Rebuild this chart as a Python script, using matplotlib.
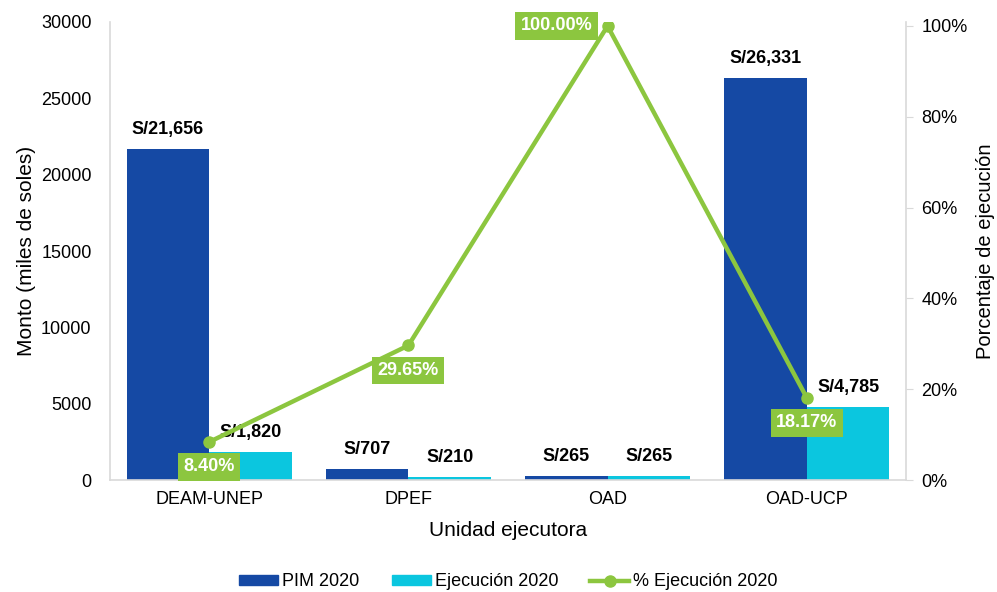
import matplotlib
matplotlib.use("Agg")
import matplotlib.pyplot as plt
import numpy as np
from matplotlib.patches import Patch
from matplotlib.lines import Line2D

plt.rcParams['font.family'] = ['Liberation Sans', 'DejaVu Sans']

categories = ["DEAM-UNEP", "DPEF", "OAD", "OAD-UCP"]
pim_2020 = [21656, 707, 265, 26331]
ejec_2020 = [1820, 210, 265, 4785]
pct_ejec = [8.40, 29.65, 100.00, 18.17]
pim_labels = ["S/21,656", "S/707", "S/265", "S/26,331"]
ejec_labels = ["S/1,820", "S/210", "S/265", "S/4,785"]
pct_labels = ["8.40%", "29.65%", "100.00%", "18.17%"]
y_ticks = [0, 5000, 10000, 15000, 20000, 25000, 30000]
pct_ticks = [0, 20, 40, 60, 80, 100]

BLUE = "#1549A4"
CYAN = "#0BC6DF"
GREEN = "#8CC63F"
GRID = "#D9D9D9"
FS = 13
FS_LAB = 15

fig = plt.figure(figsize=(9.97, 5.92), dpi=100)
ax = fig.add_axes([0.110, 0.189, 0.799, 0.774])
ax2 = ax.twinx()

x = np.arange(len(categories))
w = 0.415
ax.bar(x - w / 2, pim_2020, w, color=BLUE, zorder=2)
ax.bar(x + w / 2, ejec_2020, w, color=CYAN, zorder=2)

ax.set_xlim(-0.5, 3.5)
ax.set_ylim(0, 30000)
ax.set_yticks(y_ticks)
ax.set_yticklabels([str(v) for v in y_ticks], fontsize=FS)
ax.set_xticks(x)
ax.set_xticklabels(categories, fontsize=FS)
ax.tick_params(axis='x', length=0, pad=8)
ax.tick_params(axis='y', length=0, pad=13)
for s in ['top', 'right']:
    ax.spines[s].set_visible(False)
ax.spines['left'].set_color(GRID)
ax.spines['bottom'].set_color(GRID)
ax.spines['left'].set_linewidth(1.2)
ax.spines['bottom'].set_linewidth(1.2)
ax.set_ylabel("Monto (miles de soles)", fontsize=FS_LAB, labelpad=4)
ax.set_xlabel("Unidad ejecutora", fontsize=FS_LAB, labelpad=9)

# bar labels
for i in range(len(categories)):
    ax.annotate(pim_labels[i], (x[i] - w / 2, pim_2020[i]), xytext=(0, 8),
                textcoords='offset points', ha='center', va='bottom',
                fontsize=FS, fontweight='bold', zorder=5)
    ax.annotate(ejec_labels[i], (x[i] + w / 2, ejec_2020[i]), xytext=(0, 8),
                textcoords='offset points', ha='center', va='bottom',
                fontsize=FS, fontweight='bold', zorder=5)

# line on secondary axis
ax2.plot(x, pct_ejec, color=GREEN, lw=3.2, marker='o', ms=8, zorder=4)
ax2.set_ylim(0, 100.9)
ax2.set_yticks(pct_ticks)
ax2.set_yticklabels([f"{v}%" for v in pct_ticks], fontsize=FS)
ax2.tick_params(axis='y', length=5, color=GRID, pad=6)
for s in ['top', 'left', 'bottom']:
    ax2.spines[s].set_visible(False)
ax2.spines['right'].set_color(GRID)
ax2.spines['right'].set_linewidth(1.2)
ax2.set_ylabel("Porcentaje de ejecución", fontsize=14.5, labelpad=6)

offsets = [(0, -18, 'center', 'center'), (0, -18, 'center', 'center'),
           (-11, 0, 'right', 'center'), (0, -18, 'center', 'center')]
for i in range(len(categories)):
    dx, dy, ha, va = offsets[i]
    ax2.annotate(pct_labels[i], (x[i], pct_ejec[i]), xytext=(dx, dy),
                 textcoords='offset points', ha=ha, va=va,
                 fontsize=FS, fontweight='bold', color='white', zorder=6,
                 bbox=dict(boxstyle='square,pad=0.3', fc=GREEN, ec='none'))

handles = [Patch(color=BLUE, label="PIM 2020"),
           Patch(color=CYAN, label="Ejecución 2020"),
           Line2D([0], [0], color=GREEN, lw=3.2, marker='o', ms=8,
                  label="% Ejecución 2020")]
fig.legend(handles=handles, loc='center', bbox_to_anchor=(0.51, 0.017),
           ncol=3, frameon=False, fontsize=FS, handlelength=2.17,
           handleheight=0.55, columnspacing=1.78, handletextpad=0.22)

fig.savefig("out.png", dpi=100)
